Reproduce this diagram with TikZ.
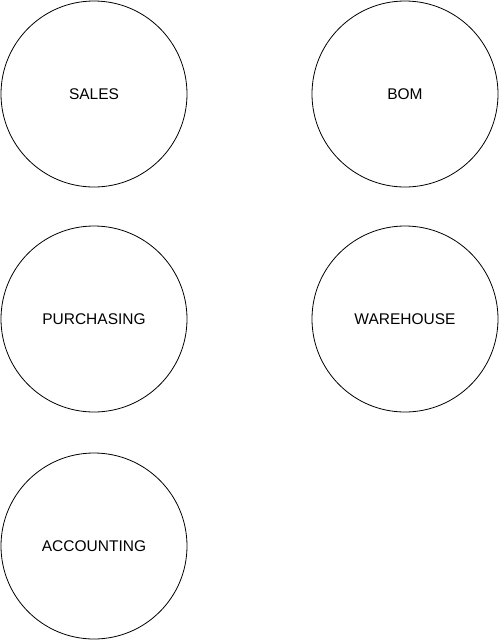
\documentclass[tikz,border=0pt]{standalone}
\usepackage{fontspec}
\setmainfont{Liberation Sans}
\usepackage{tikz}
\usetikzlibrary{positioning}

\tikzset{dept/.style={draw, circle, line width=0.8pt, minimum size=186pt, inner sep=0pt,
                      font=\fontsize{15.5}{18}\selectfont}}

\begin{document}
\begin{tikzpicture}[x=1pt, y=-1pt]
                  \useasboundingbox (0,0) rectangle (499,641);
                  \node[dept] (sales) at (94, 94) {SALES};
                  \node[dept] (bom) at (405, 94) {BOM};

                  \node[dept] (purchasing) at (94, 319) {PURCHASING};
                  \node[dept] (warehouse) at (405, 319) {WAREHOUSE};

                  \node[dept] (accounting) at (94, 546) {ACCOUNTING};
              \end{tikzpicture}
\end{document}
